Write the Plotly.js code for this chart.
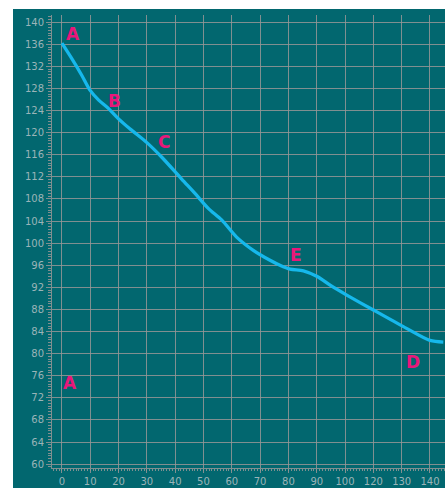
<!DOCTYPE html>
<html>
<head>
<meta charset="utf-8">
<script src="https://cdn.plot.ly/plotly-3.0.1.min.js"></script>
<style>
html,body{margin:0;padding:0;background:#ffffff;width:445px;height:488px;overflow:hidden;}
#chart{position:absolute;left:13px;top:9px;width:432px;height:479px;}
</style>
</head>
<body>
<div id="chart"></div>
<script>
// x positions along the axis (tick slots) and values
const xPos = [0, 3.5, 7.0, 9.9, 13, 16.4, 20, 24.0, 30, 35.2, 42.3, 47, 51.7, 56.4, 61.7, 67.6, 73.5, 77.0, 80.6, 85.3, 90.0, 95, 100.6, 110.0, 120.6, 130.0, 134.7];
const yVal = [136.2, 133.4, 130.4, 127.7, 125.9, 124.4, 122.5, 120.7, 118.2, 115.6, 111.6, 109.0, 106.3, 104.2, 101.1, 98.7, 96.9, 96.0, 95.3, 95.0, 94.0, 92.3, 90.6, 87.9, 84.9, 82.4, 82.1];
const tickPos = [0,10,20,30,40,50,60,70,80,90,100,110,120,130];
const tickLabels = ['0','10','20','30','40','50','60','70','80','90','100','120','130','140'];
const labelText = ['A','B','C','E','D','A'];
const labelX = [3.9, 18.4, 36.0, 82.7, 124.0, 2.8];
const labelY = [137.8, 125.7, 118.3, 97.8, 78.5, 74.7];

const grid = 'rgba(150,150,150,0.85)';
const tickFont = {family:'DejaVu Sans', size:10, color:'#9ab4b8'};

const annotations = labelText.map((t,i)=>({
  x: labelX[i], y: labelY[i], xref:'x', yref:'y', text: t, showarrow:false,
  font:{family:'DejaVu Sans', size:17, color:'#e8177a', weight:'bold'}
}));

Plotly.newPlot('chart', [{
  x: xPos, y: yVal, type:'scatter', mode:'lines',
  line:{color:'#16b8ec', width:3.3, shape:'spline', smoothing:0.8},
  hoverinfo:'skip'
}], {
  width:432, height:479,
  margin:{l:39, r:0, t:6, b:20},
  paper_bgcolor:'#02676f', plot_bgcolor:'#02676f',
  showlegend:false,
  xaxis:{
    range:[-3.5, 135.3], tickmode:'array', tickvals:tickPos, ticktext:tickLabels,
    showgrid:true, gridcolor:grid, gridwidth:1, zeroline:false,
    showline:true, linecolor:grid, linewidth:1,
    ticks:'outside', ticklen:4, tickcolor:grid, tickfont:tickFont,
    minor:{dtick:1, tick0:0, ticks:'outside', ticklen:2, tickcolor:grid, showgrid:false}
  },
  yaxis:{
    range:[59.3, 141.3], tickmode:'linear', tick0:60, dtick:4,
    showgrid:true, gridcolor:grid, gridwidth:1, zeroline:false,
    showline:true, linecolor:grid, linewidth:1,
    ticks:'outside', ticklen:5, tickcolor:grid, tickfont:tickFont,
    minor:{dtick:0.5, tick0:60, ticks:'outside', ticklen:3, tickcolor:grid, showgrid:false}
  },
  annotations: annotations
}, {displayModeBar:false, staticPlot:true});
</script>
</body>
</html>
